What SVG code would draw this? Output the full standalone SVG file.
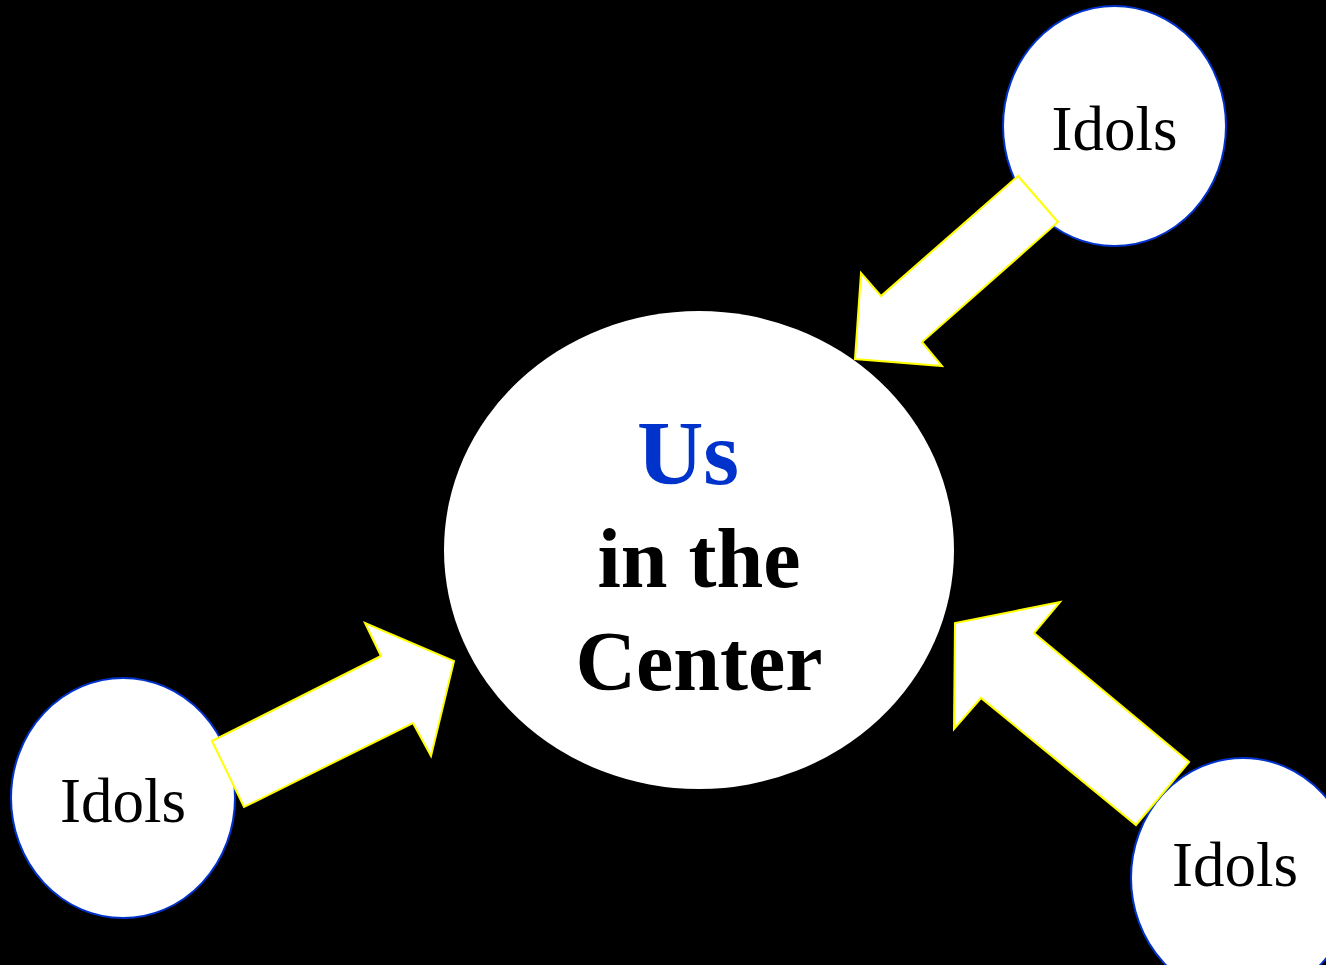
<svg xmlns="http://www.w3.org/2000/svg" width="1326" height="965" viewBox="0 0 1326 965">
<style>
.idol{fill:#ffffff;stroke:#0033cc;stroke-width:2}
.idoltxt{font-family:"Liberation Serif","Times New Roman",serif;font-size:63px;fill:#000000;text-anchor:middle}
.ctr{font-family:"Liberation Serif","Times New Roman",serif;font-weight:bold;text-anchor:middle}
.arrow{fill:#ffffff;stroke:#ffff00;stroke-width:2;stroke-linejoin:miter}
</style>
<rect x="0" y="0" width="1326" height="965" fill="#000000"/>
<g id="center">
<ellipse cx="699" cy="550" rx="255" ry="239" fill="#ffffff"/>
<text class="ctr" x="688" y="484" font-size="92" fill="#0033cc">Us</text>
<text class="ctr" x="699" y="587" font-size="84" fill="#000000">in the</text>
<text class="ctr" x="699" y="690" font-size="84" fill="#000000">Center</text>
</g>
<g id="idols-top">
<ellipse class="idol" cx="1114.5" cy="126" rx="111.5" ry="120"/>
<text class="idoltxt" x="1114.5" y="150">Idols</text>
</g>
<g id="idols-left">
<ellipse class="idol" cx="123" cy="798" rx="112" ry="120"/>
<text class="idoltxt" x="123" y="822">Idols</text>
</g>
<g id="idols-right">
<ellipse class="idol" cx="1243" cy="878" rx="112" ry="120"/>
<text class="idoltxt" x="1235" y="886">Idols</text>
</g>
<g id="connectors">
<polygon class="arrow" points="1018,176 1058,222 922,342 942,366 855,359 861,273 881,296"/>
<polygon class="arrow" points="212,741 244,807 413,723 431,756 454,661 365,623 381,656"/>
<polygon class="arrow" points="1189,762 1136,825 981,698 954,729 955,623 1060,602 1034,633"/>
</g>
</svg>
